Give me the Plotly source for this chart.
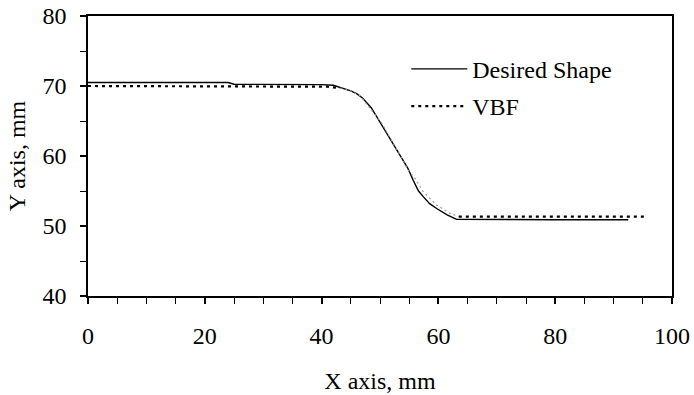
import plotly.graph_objects as go

# Data
desired_x = [0, 24, 25, 36, 40, 42, 44, 45, 46, 47, 48.5, 50.3, 51.7, 53.4, 54.8,
             55.7, 56.6, 57.4, 58.5, 59.7, 61.5, 63.1, 70, 80, 92.5]
desired_y = [70.5, 70.5, 70.25, 70.25, 70.2, 70.1, 69.6, 69.3, 68.9, 68.3, 66.9, 64.4, 62.3, 60.1, 58.2,
             56.5, 55.0, 54.2, 53.2, 52.5, 51.6, 50.95, 50.9, 50.9, 50.9]

vbf_x = [0, 10, 20, 30, 38, 41, 43.2, 44.5, 46.6, 48.8, 50.3, 51.1, 52.5, 54, 54.8,
         56, 57.4, 59.7, 62, 63.5, 70, 80, 95.4]
vbf_y = [70, 70, 70, 70, 70, 69.9, 69.7, 69.5, 68.6, 66.3, 64.7, 63.5, 61.5, 59.3, 58,
         56.8, 54.9, 53, 51.8, 51.35, 51.33, 51.33, 51.33]

x_ticks = [0, 20, 40, 60, 80, 100]
y_ticks = [40, 50, 60, 70, 80]

FONT = "Liberation Serif, Times New Roman, serif"

fig = go.Figure()
fig.add_trace(go.Scatter(x=desired_x, y=desired_y, mode="lines", name="Desired Shape",
                         line=dict(color="black", width=1.4), legendgroup="a"))
# VBF: flat parts black dotted, transition part lighter grey dots
fig.add_trace(go.Scatter(x=vbf_x[:7], y=vbf_y[:7], mode="lines", name="VBF",
                         line=dict(color="black", width=2.2, dash="3px,4px"), legendgroup="b"))
fig.add_trace(go.Scatter(x=vbf_x[6:20], y=vbf_y[6:20], mode="lines", showlegend=False,
                         line=dict(color="#999999", width=1.2, dash="2px,3px"), legendgroup="b"))
fig.add_trace(go.Scatter(x=vbf_x[19:], y=vbf_y[19:], mode="lines", showlegend=False,
                         line=dict(color="black", width=2.2, dash="3px,4px"), legendgroup="b"))

axis_common = dict(showline=True, linecolor="black", linewidth=1.6, mirror=True,
                   showgrid=False, zeroline=False, ticks="outside", ticklen=6,
                   tickwidth=1.8, tickcolor="black",
                   tickfont=dict(family=FONT, size=24, color="black"))

fig.update_xaxes(range=[0, 100], tickvals=x_ticks, ticklabelstandoff=11,
                 minor=dict(dtick=5, ticks="outside", ticklen=6, tickwidth=1.2, tickcolor="black"),
                 title=dict(text="X axis, mm", font=dict(family=FONT, size=24, color="black"), standoff=25),
                 **axis_common)
fig.update_yaxes(range=[40, 80], tickvals=y_ticks, ticklabelstandoff=9,
                 minor=dict(dtick=5, ticks="outside", ticklen=6, tickwidth=1.2, tickcolor="black"),
                 title=dict(text="Y axis, mm", font=dict(family=FONT, size=24, color="black"), standoff=10),
                 **axis_common)

fig.update_layout(
    width=694, height=395,
    margin=dict(l=88, r=22, t=16, b=99, autoexpand=False),
    plot_bgcolor="white", paper_bgcolor="white",
    font=dict(family=FONT, size=24, color="black"),
    legend=dict(x=0.545, y=0.89, xanchor="left", yanchor="top", bgcolor="rgba(0,0,0,0)",
                font=dict(family=FONT, size=24, color="black"), tracegroupgap=3,
                itemwidth=56),
)

fig.write_html("out.html")
